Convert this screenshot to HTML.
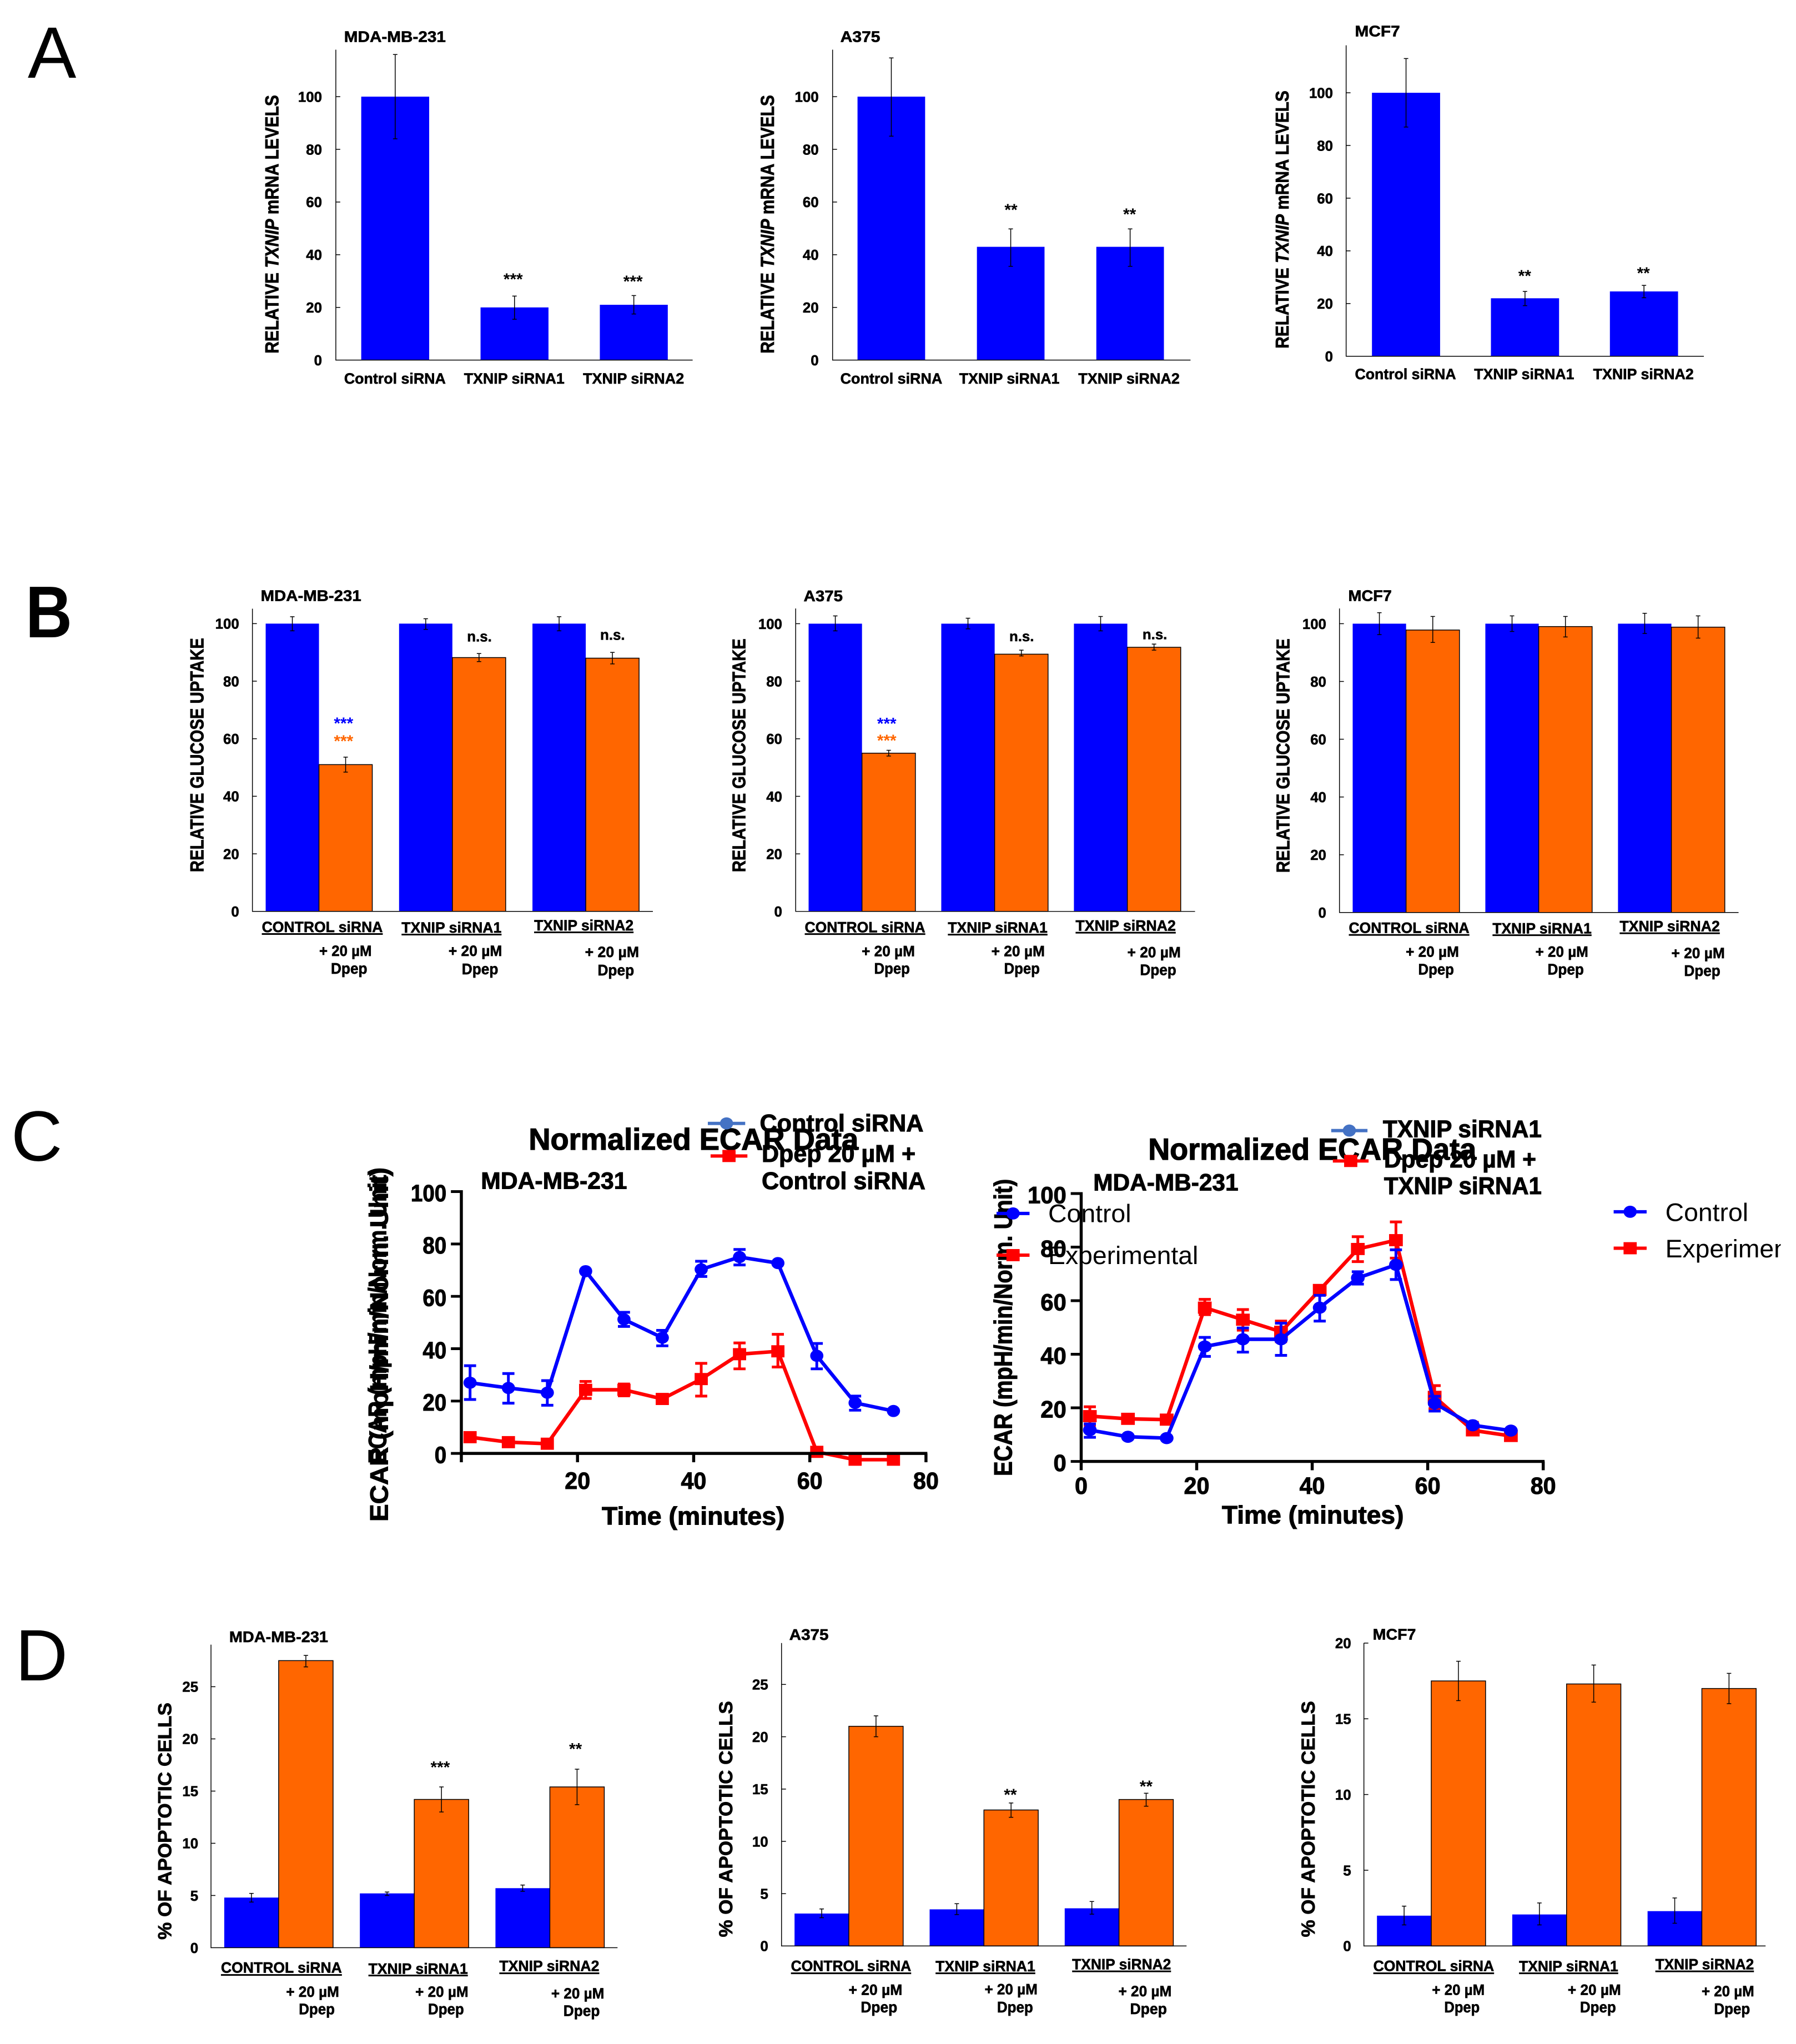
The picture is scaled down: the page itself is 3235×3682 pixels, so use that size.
<!DOCTYPE html>
<html lang="en">
<head>
<meta charset="utf-8">
<title>TXNIP knockdown figure panels</title>
<style>
html,body{margin:0;padding:0;background:#fff;}
svg{display:block;font-family:"Liberation Sans",sans-serif;}
</style>
</head>
<body>
<svg id="figure" xmlns="http://www.w3.org/2000/svg" width="3235" height="3682" viewBox="0 0 3235 3682">
<defs><clipPath id="page-clip"><rect x="0" y="0" width="3223" height="3682"/></clipPath></defs>
<rect x="0" y="0" width="3235" height="3682" fill="#fff"/>
</svg>
<script>
/* ---------- data ---------- */
const categoriesA = ['Control siRNA', 'TXNIP siRNA1', 'TXNIP siRNA2'];
const categoriesGrouped = ['CONTROL siRNA', 'TXNIP siRNA1', 'TXNIP siRNA2'];
const ticksHundred = [0, 20, 40, 60, 80, 100];
const ticksApoptosis = [0, 5, 10, 15, 20, 25];
const ticksApoptosisMcf7 = [0, 5, 10, 15, 20];

const a1Values = [100, 20, 21];
const a1High = [116, 24.3, 24.5];
const a1Low = [84, 15.5, 17.5];
const a2Values = [100, 43, 43];
const a2High = [114.7, 49.8, 49.8];
const a2Low = [85, 35.6, 35.6];
const a3Values = [100, 22, 24.6];
const a3High = [113, 24.6, 26.9];
const a3Low = [87, 19.2, 22.2];

const b1Control = [100, 100, 100];
const b1ControlHigh = [102.4, 101.7, 102.4];
const b1ControlLow = [97.5, 98, 97.5];
const b1Dpep = [51, 88.2, 88];
const b1DpepHigh = [53.6, 89.6, 90];
const b1DpepLow = [48.4, 86.8, 86];

const b2Control = [100, 100, 100];
const b2ControlHigh = [102.7, 101.9, 102.5];
const b2ControlLow = [97.5, 98.2, 97.5];
const b2Dpep = [55, 89.4, 91.8];
const b2DpepHigh = [56, 90.8, 92.9];
const b2DpepLow = [54, 88.8, 90.8];

const b3Control = [100, 100, 100];
const b3ControlHigh = [103.8, 102.7, 103.6];
const b3ControlLow = [96.2, 97.3, 96.6];
const b3Dpep = [97.8, 99, 98.8];
const b3DpepHigh = [102.5, 102.5, 102.7];
const b3DpepLow = [93.5, 95.4, 95];

const d1Control = [4.8, 5.2, 5.7];
const d1ControlHigh = [5.2, 5.33, 6];
const d1ControlLow = [4.37, 5, 5.4];
const d1Dpep = [27.5, 14.2, 15.4];
const d1DpepHigh = [28, 15.4, 17.1];
const d1DpepLow = [26.9, 13, 13.7];

const d2Control = [3.1, 3.5, 3.6];
const d2ControlHigh = [3.54, 4.04, 4.25];
const d2ControlLow = [2.7, 3, 3.04];
const d2Dpep = [21, 13, 14];
const d2DpepHigh = [22, 13.67, 14.6];
const d2DpepLow = [20, 12.3, 13.36];

const d3Control = [2, 2.08, 2.3];
const d3ControlHigh = [2.63, 2.84, 3.17];
const d3ControlLow = [1.39, 1.39, 1.5];
const d3Dpep = [17.5, 17.3, 17];
const d3DpepHigh = [18.8, 18.55, 18];
const d3DpepLow = [16.2, 16.1, 16];

const ecarMinutes = [1.5, 8.1, 14.8, 21.4, 28, 34.6, 41.3, 47.9, 54.5, 61.2, 67.8, 74.4];
const ecarYTicks = [0, 20, 40, 60, 80, 100];
const ecarXTicks = [0, 20, 40, 60, 80];

const c1Control = [27, 25, 23.2, 69.6, 51.2, 44.2, 70.3, 75, 72.7, 37.3, 19.3, 16.2];
const c1ControlHigh = [33.5, 30.5, 27.8, null, 53.9, 47, 73.4, 77.9, null, 42, 21.9, null];
const c1ControlLow = [20.6, 19.2, 18.4, null, 48.5, 41.1, 67.6, 72, null, 32.3, 16.5, null];
const c1Dpep = [6.2, 4.3, 3.7, 24.3, 24.3, 20.8, 28.4, 37.9, 39, 0.6, -2.4, -2.4];
const c1DpepHigh = [null, null, null, 27.5, 26.5, null, 34.4, 42.2, 45.5, null, null, null];
const c1DpepLow = [null, null, null, 21, 22, null, 21.9, 32.3, 33, null, null, null];

const c2Control = [11.7, 9.2, 8.7, 42.9, 45.6, 45.6, 57.4, 68.5, 73.4, 21.7, 13.5, 11.5];
const c2ControlHigh = [14, null, null, 46.3, 49.8, 51.6, 62, 70.8, 79, 24.3, null, null];
const c2ControlLow = [9, null, null, 39.2, 40.8, 39.6, 52.4, 66.2, 67.9, 18.8, null, null];
const c2Dpep = [16.9, 15.9, 15.6, 57.4, 52.9, 48.4, 64, 79.3, 82.6, 24.1, 11.6, 9.5];
const c2DpepHigh = [20.4, null, null, 60.5, 56.7, 52.4, 65.3, 83.9, 89.4, 28.3, 14.6, null];
const c2DpepLow = [13.5, null, null, 54.8, 49, 44.7, 62.7, 74.6, 75.9, 19.7, 10.4, null];

/* ---------- helpers ---------- */
const NS = 'http://www.w3.org/2000/svg';
const figure = document.getElementById('figure');
const BLUE = '#0000ff';
const ORANGE = '#ff6600';
const RED = '#ff0000';

function add(parent, tag, attrs, name) {
  const el = document.createElementNS(NS, tag);
  for (const k in attrs) el.setAttribute(k, attrs[k]);
  
  
  parent.appendChild(el);
  return el;
}
function group(parent, name) { return add(parent, 'g', {}, name); }
function fitGroup(g, f) {
  g.setAttribute('transform', 'translate(' + f[0] + ' ' + f[1] + ') scale(' + f[2] + ' ' + f[3] + ') translate(' + (-f[0]) + ' ' + (-f[1]) + ')');
}

function label(parent, str, x, y, o) {
  const size = o.size || 27;
  const weight = o.weight || 'bold';
  const attrs = { x: x, y: y + 0.36 * size, 'font-size': size, 'font-weight': weight,
                  'text-anchor': o.anchor || 'start', fill: o.fill || '#000' };
  if (weight === 'bold') { attrs.stroke = o.fill || '#000'; attrs['stroke-width'] = 0.024 * size; }
  if (o.w) { attrs.textLength = o.w; attrs.lengthAdjust = 'spacingAndGlyphs'; }
  const el = add(parent, 'text', attrs, o.name || 'label');
  el.textContent = str;
  return el;
}
function verticalTitle(parent, parts, xc, yBottom, len, size, name) {
  const bx = xc + 0.36 * size;
  const el = add(parent, 'text', { x: bx, y: yBottom, 'font-size': size, 'font-weight': 'bold', stroke: '#000', 'stroke-width': 0.024 * size,
    transform: 'rotate(-90 ' + bx + ' ' + yBottom + ')', textLength: len, lengthAdjust: 'spacingAndGlyphs' }, name);
  parts.forEach(function (p) {
    const t = document.createElementNS(NS, 'tspan');
    if (p.italic) t.setAttribute('font-style', 'italic');
    t.textContent = p.text;
    el.appendChild(t);
  });
  return el;
}
function hline(parent, x1, x2, y, w, color, name) {
  return add(parent, 'line', { x1: x1, x2: x2, y1: y, y2: y, stroke: color || '#000', 'stroke-width': w }, name);
}
function vline(parent, x, y1, y2, w, color, name) {
  return add(parent, 'line', { x1: x, x2: x, y1: y1, y2: y2, stroke: color || '#000', 'stroke-width': w }, name);
}

function bigLetter(str, x, baseline, size, weight, len) {
  const attrs = { x: x, y: baseline, 'font-size': size, 'font-weight': weight };
  if (len) { attrs.textLength = len; attrs.lengthAdjust = 'spacingAndGlyphs'; }
  const el = add(figure, 'text', attrs, 'panel-letter-' + str.toLowerCase());
  el.textContent = str;
}
bigLetter('A', 50, 140, 131, 'normal');
bigLetter('B', 46, 1148, 132, 'bold', 84);
bigLetter('C', 20, 2091, 128, 'normal');
bigLetter('D', 27.5, 3027, 131, 'normal');

/* ---------- bar panels ---------- */
function barPanel(c) {
  const g = group(figure, c.name);
  fitGroup(g, c.fit);
  const y = function (v) { return c.base - v * c.unit; };

  label(g, c.title, c.titleX, c.titleY, { size: 28, w: c.titleW, name: 'panel-title' });
  verticalTitle(g, c.yTitle, c.yTitleX, c.yTitleBottom, c.yTitleLen, 34, 'y-axis-title');

  c.series.forEach(function (s, j) {
    s.values.forEach(function (v, i) {
      const left = c.x0 + c.off + i * c.step + j * c.barW;
      const attrs = { x: left, y: y(v), width: c.barW, height: c.base - y(v), fill: s.color };
      if (s.outline) { attrs.stroke = '#000'; attrs['stroke-width'] = 1.5; }
      add(g, 'rect', attrs, 'bar-' + s.key + '-' + (i + 1));
    });
  });
  c.series.forEach(function (s, j) {
    s.values.forEach(function (v, i) {
      const cx = c.x0 + c.off + i * c.step + (j + 0.5) * c.barW;
      const yh = y(s.high[i]);
      const yl = y(s.low[i]);
      vline(g, cx, yh, yl, 1.5, '#000', 'error-bar-' + s.key + '-' + (i + 1));
      hline(g, cx - 4, cx + 4, yh, 1.5, '#000', 'error-cap-high');
      hline(g, cx - 4, cx + 4, yl, 1.5, '#000', 'error-cap-low');
    });
  });

  vline(g, c.x0, c.top, c.base + 0.75, 1.5, '#000', 'y-axis');
  hline(g, c.x0, c.right, c.base, 1.5, '#000', 'x-axis');
  c.ticks.forEach(function (t) {
    if (t !== 0) hline(g, c.x0, c.x0 + 8, y(t), 1.5, '#000', 'y-tick');
    label(g, String(t), c.tickRight, y(t), { size: 26, anchor: 'end', name: 'y-tick-label' });
  });

  (c.notes || []).forEach(function (n) {
    const sz = n.size || 30;
    const isNs = n.text === 'n.s.';
    const attrs = { x: n.x, y: n.y + (isNs ? 0.36 : 0.56) * sz - 2, 'font-size': sz, 'font-weight': 'bold',
      'text-anchor': 'middle', fill: n.color || '#000' };
    if (isNs) { attrs.stroke = '#000'; attrs['stroke-width'] = 0.6; }
    const el = add(g, 'text', attrs, isNs ? 'not-significant-label' : 'significance-stars');
    el.textContent = n.text;
  });

  if (c.plainLabels) {
    c.plainLabels.forEach(function (l, i) {
      label(g, c.categories[i], l[0], l[2], { size: 27, w: l[1], anchor: 'middle', name: 'x-category-label' });
    });
  }
  if (c.groups) {
    c.groups.forEach(function (l, i) {
      label(g, c.categories[i], l[0], l[2], { size: 27, w: l[1], name: 'x-category-label' });
      hline(g, l[0], l[0] + l[1], l[3], 3, '#000', 'category-underline');
    });
    c.doses.forEach(function (l) {
      label(g, '+ 20 µM', l[0], l[2], { size: 27, w: l[1], name: 'dose-label' });
    });
    c.dpeps.forEach(function (l) {
      label(g, 'Dpep', l[0], l[2], { size: 28, w: l[1], name: 'drug-label' });
    });
  }
}

const titleMrna = [{ text: 'RELATIVE ' }, { text: 'TXNIP', italic: true }, { text: ' mRNA LEVELS' }];
const titleGlucose = [{ text: 'RELATIVE GLUCOSE UPTAKE' }];
const titleApoptosis = [{ text: '% OF APOPTOTIC CELLS' }];

barPanel({ name: 'panel-a-mda-mb-231', fit: [0, 0, 0.9949, 0.9949], title: 'MDA-MB-231', titleX: 623, titleY: 66, titleW: 184,
  x0: 608, base: 652, top: 90, right: 1254, unit: 4.77, off: 46, step: 216, barW: 123, tickRight: 583, ticks: ticksHundred,
  yTitle: titleMrna, yTitleX: 492, yTitleBottom: 640, yTitleLen: 468, categories: categoriesA,
  series: [{ key: 'control', color: BLUE, values: a1Values, high: a1High, low: a1Low }],
  notes: [{ text: '***', x: 929, y: 501 }, { text: '***', x: 1146, y: 505 }],
  plainLabels: [[715, 184, 685], [931, 182, 685], [1147, 183, 685]] });

barPanel({ name: 'panel-a-a375', fit: [1340, 0, 0.998, 0.9949], title: 'A375', titleX: 1514, titleY: 66, titleW: 72,
  x0: 1500, base: 652, top: 90, right: 2146, unit: 4.77, off: 45, step: 215.5, barW: 122, tickRight: 1475, ticks: ticksHundred,
  yTitle: titleMrna, yTitleX: 1382, yTitleBottom: 640, yTitleLen: 468, categories: categoriesA,
  series: [{ key: 'control', color: BLUE, values: a2Values, high: a2High, low: a2Low }],
  notes: [{ text: '**', x: 1822, y: 375 }, { text: '**', x: 2036, y: 383 }],
  plainLabels: [[1606, 184, 685], [1819, 181, 685], [2035, 183, 685]] });

barPanel({ name: 'panel-a-mcf7', fit: [2200, 0, 0.9898, 0.9949], title: 'MCF7', titleX: 2443, titleY: 56, titleW: 82,
  x0: 2427, base: 645, top: 82, right: 3078, unit: 4.77, off: 47, step: 216.5, barW: 124, tickRight: 2403, ticks: ticksHundred,
  yTitle: titleMrna, yTitleX: 2310, yTitleBottom: 631, yTitleLen: 467, categories: categoriesA,
  series: [{ key: 'control', color: BLUE, values: a3Values, high: a3High, low: a3Low }],
  notes: [{ text: '**', x: 2752, y: 495 }, { text: '**', x: 2968, y: 490 }],
  plainLabels: [[2535, 184, 677], [2751, 182, 677], [2968, 183, 677]] });

barPanel({ name: 'panel-b-mda-mb-231', fit: [0, 1000, 0.9949, 0.9949], title: 'MDA-MB-231', titleX: 472, titleY: 1073, titleW: 182,
  x0: 457, base: 1645, top: 1097, right: 1182, unit: 5.21, off: 24, step: 241.5, barW: 96.5, tickRight: 433, ticks: ticksHundred,
  yTitle: titleGlucose, yTitleX: 356, yTitleBottom: 1574, yTitleLen: 424, categories: categoriesGrouped,
  series: [{ key: 'control', color: BLUE, values: b1Control, high: b1ControlHigh, low: b1ControlLow },
           { key: 'dpep', color: ORANGE, outline: true, values: b1Dpep, high: b1DpepHigh, low: b1DpepLow }],
  notes: [{ text: '***', x: 622, y: 1300, color: BLUE }, { text: '***', x: 622, y: 1332, color: ORANGE },
          { text: 'n.s.', x: 868, y: 1149, size: 26 }, { text: 'n.s.', x: 1109, y: 1146, size: 26 }],
  groups: [[474, 219, 1673, 1686], [727, 181, 1674, 1687], [967, 180, 1670, 1683]],
  doses: [[578, 95, 1716], [812, 97, 1716], [1059, 98, 1718]],
  dpeps: [[599, 66, 1748], [836, 66, 1749], [1082, 66, 1751]] });

barPanel({ name: 'panel-b-a375', fit: [1280, 1020, 0.9915, 0.9949], title: 'A375', titleX: 1449, titleY: 1073.5, titleW: 71,
  x0: 1434.5, base: 1645, top: 1096.5, right: 2160, unit: 5.21, off: 23.5, step: 241, barW: 97, tickRight: 1410, ticks: ticksHundred,
  yTitle: titleGlucose, yTitleX: 1331, yTitleBottom: 1574, yTitleLen: 423, categories: categoriesGrouped,
  series: [{ key: 'control', color: BLUE, values: b2Control, high: b2ControlHigh, low: b2ControlLow },
           { key: 'dpep', color: ORANGE, outline: true, values: b2Dpep, high: b2DpepHigh, low: b2DpepLow }],
  notes: [{ text: '***', x: 1600, y: 1300, color: BLUE }, { text: '***', x: 1600, y: 1331, color: ORANGE },
          { text: 'n.s.', x: 1845, y: 1148.5, size: 26 }, { text: 'n.s.', x: 2087, y: 1145, size: 26 }],
  groups: [[1451, 219, 1673, 1686], [1711, 181, 1673.5, 1687], [1943, 182, 1670, 1683.5]],
  doses: [[1554.5, 96.5, 1716.5], [1790, 97, 1716.5], [2037, 97, 1718.5]],
  dpeps: [[1577, 65, 1747.5], [1813, 65, 1747.5], [2060, 66, 1750]] });

barPanel({ name: 'panel-b-mcf7', fit: [2260, 1020, 0.9915, 0.9949], title: 'MCF7', titleX: 2430, titleY: 1072.5, titleW: 79,
  x0: 2414, base: 1647, top: 1096.5, right: 3139, unit: 5.23, off: 24, step: 241, barW: 97, tickRight: 2390, ticks: ticksHundred,
  yTitle: titleGlucose, yTitleX: 2311, yTitleBottom: 1575, yTitleLen: 424, categories: categoriesGrouped,
  series: [{ key: 'control', color: BLUE, values: b3Control, high: b3ControlHigh, low: b3ControlLow },
           { key: 'dpep', color: ORANGE, outline: true, values: b3Dpep, high: b3DpepHigh, low: b3DpepLow }],
  groups: [[2431, 219, 1674, 1687.5], [2692, 180, 1675, 1688], [2923, 182, 1671, 1684.5]],
  doses: [[2534.5, 96.5, 1717.5], [2770, 96, 1717.5], [3017, 97, 1720]],
  dpeps: [[2557, 65, 1749], [2792, 66, 1749], [3040, 66, 1751.5]] });

barPanel({ name: 'panel-d-mda-mb-231', fit: [0, 2900, 0.9949, 0.9949], title: 'MDA-MB-231', titleX: 415, titleY: 2948, titleW: 179,
  x0: 382, base: 3511.6, top: 2963, right: 1118, unit: 18.9, off: 24, step: 245.5, barW: 98.5, tickRight: 359, ticks: ticksApoptosis,
  yTitle: titleApoptosis, yTitleX: 298, yTitleBottom: 3497, yTitleLen: 429, categories: categoriesGrouped,
  series: [{ key: 'control', color: BLUE, values: d1Control, high: d1ControlHigh, low: d1ControlLow },
           { key: 'dpep', color: ORANGE, outline: true, values: d1Dpep, high: d1DpepHigh, low: d1DpepLow }],
  notes: [{ text: '***', x: 797, y: 3180 }, { text: '**', x: 1042, y: 3147 }],
  groups: [[400, 219, 3547, 3561], [667, 180, 3549, 3562], [904, 181, 3544, 3558]],
  doses: [[518, 96, 3591], [752, 96, 3591], [998, 96, 3594]],
  dpeps: [[541, 65, 3622], [775, 65, 3622], [1020, 66, 3625]] });

barPanel({ name: 'panel-d-a375', fit: [1260, 2900, 0.998, 0.9949], title: 'A375', titleX: 1422, titleY: 2944, titleW: 71,
  x0: 1408, base: 3508.5, top: 2960, right: 2139, unit: 18.94, off: 23.5, step: 243.8, barW: 98, tickRight: 1384, ticks: ticksApoptosis,
  yTitle: titleApoptosis, yTitleX: 1307, yTitleBottom: 3492.5, yTitleLen: 427.5, categories: categoriesGrouped,
  series: [{ key: 'control', color: BLUE, values: d2Control, high: d2ControlHigh, low: d2ControlLow },
           { key: 'dpep', color: ORANGE, outline: true, values: d2Dpep, high: d2DpepHigh, low: d2DpepLow }],
  notes: [{ text: '**', x: 1821, y: 3230 }, { text: '**', x: 2066, y: 3215 }],
  groups: [[1425, 217, 3544, 3558], [1686, 180, 3544.5, 3558], [1932.5, 178.5, 3541, 3554.5]],
  doses: [[1529, 97, 3587.5], [1774.5, 95.5, 3586.5], [2016, 96, 3590]],
  dpeps: [[1551, 66, 3618.5], [1797, 65, 3618.5], [2037, 66.5, 3621.5]] });

barPanel({ name: 'panel-d-mcf7', fit: [2290, 2900, 0.998, 0.9949], title: 'MCF7', titleX: 2473, titleY: 2943.5, titleW: 78,
  x0: 2457, base: 3508.5, top: 2960, right: 3182, unit: 27.42, off: 23.6, step: 244.2, barW: 98, tickRight: 2434, ticks: ticksApoptosisMcf7,
  yTitle: titleApoptosis, yTitleX: 2356, yTitleBottom: 3492.5, yTitleLen: 427.5, categories: categoriesGrouped,
  series: [{ key: 'control', color: BLUE, values: d3Control, high: d3ControlHigh, low: d3ControlLow },
           { key: 'dpep', color: ORANGE, outline: true, values: d3Dpep, high: d3DpepHigh, low: d3DpepLow }],
  groups: [[2474, 218, 3544, 3558], [2737, 179, 3544.5, 3558], [2983, 178, 3541, 3554.5]],
  doses: [[2580, 95, 3587.5], [2825, 96, 3587.5], [3066.5, 95, 3590]],
  dpeps: [[2602, 64, 3618.5], [2847, 65, 3618.5], [3089, 65, 3621.5]] });

/* ---------- ECAR line panels ---------- */
function drawMarker(parent, kind, x, y, c, color, name) {
  if (kind === 'circle') {
    add(parent, 'ellipse', { cx: x, cy: y, rx: c.markW / 2, ry: c.markH / 2, fill: color }, name);
  } else {
    add(parent, 'rect', { x: x - c.markW / 2, y: y - c.markH / 2, width: c.markW, height: c.markH, fill: color }, name);
  }
}
function lineChart(c) {
  const g = group(figure, c.name);
  fitGroup(g, c.fit);
  const px = function (t) { return c.x0 + t * c.xUnit; };
  const py = function (v) { return c.base - v * c.yUnit; };

  c.series.forEach(function (s) {
    const sg = group(g, 'series-' + s.key);
    const pts = ecarMinutes.map(function (t, i) { return px(t) + ',' + py(s.values[i]); }).join(' ');
    add(sg, 'polyline', { points: pts, fill: 'none', stroke: s.color, 'stroke-width': 6.5, 'stroke-linejoin': 'round' }, 'line-' + s.key);
    ecarMinutes.forEach(function (t, i) {
      if (s.high[i] !== null) {
        vline(sg, px(t), py(s.high[i]), py(s.low[i]), 5, s.color, 'error-bar-' + s.key);
        hline(sg, px(t) - 11, px(t) + 11, py(s.high[i]), 5, s.color, 'error-cap-high');
        hline(sg, px(t) - 11, px(t) + 11, py(s.low[i]), 5, s.color, 'error-cap-low');
      }
      drawMarker(sg, s.marker, px(t), py(s.values[i]), c, s.color, 'point-' + s.key + '-' + (i + 1));
    });
  });

  vline(g, c.x0, py(100) - 2.5, c.base + 2.5, 5.5, '#000', 'y-axis');
  hline(g, c.x0, px(80) + 2.5, c.base, 5.5, '#000', 'x-axis');
  ecarYTicks.forEach(function (t) {
    hline(g, c.x0 - 19, c.x0, py(t), 5, '#000', 'y-tick');
    label(g, String(t), c.x0 - 27, py(t) + 2, { size: 43, anchor: 'end', w: String(t).length * c.yDigitW, name: 'y-tick-label' });
  });
  ecarXTicks.forEach(function (t) {
    vline(g, px(t), c.base, c.base + 16, 5.5, '#000', 'x-tick');
    if (t !== 0 || c.showZero) {
      label(g, String(t), px(t), c.xLabelY, { size: 43, anchor: 'middle', w: String(t).length * 23.2, name: 'x-tick-label' });
    }
  });
  return g;
}

const gC1 = lineChart({ name: 'panel-c-control-sirna', fit: [600, 1960, 0.9897, 0.9949], x0: 833.4, base: 2621.5, xUnit: 10.57, yUnit: 4.74,
  markW: 24, markH: 22, yDigitW: 21.7, xLabelY: 2670, showZero: false,
  series: [{ key: 'dpep', color: RED, marker: 'square', values: c1Dpep, high: c1DpepHigh, low: c1DpepLow },
           { key: 'control', color: BLUE, marker: 'circle', values: c1Control, high: c1ControlHigh, low: c1ControlLow }] });
const gC2 = lineChart({ name: 'panel-c-txnip-sirna1', fit: [1700, 1960, 0.9898, 0.9949], x0: 1950, base: 2636, xUnit: 10.51, yUnit: 4.85,
  markW: 25, markH: 22, yDigitW: 23.5, xLabelY: 2679.5, showZero: true,
  series: [{ key: 'dpep', color: RED, marker: 'square', values: c2Dpep, high: c2DpepHigh, low: c2DpepLow },
           { key: 'control', color: BLUE, marker: 'circle', values: c2Control, high: c2ControlHigh, low: c2ControlLow }] });

function legendKey(parent, x1, x2, y, color, kind, name) {
  hline(parent, x1, x2, y, 6, color, name + '-line');
  drawMarker(parent, kind, (x1 + x2) / 2, y, { markW: 24, markH: 22 }, color, name + '-marker');
}

/* panel C text, chart 1 */
const ecarTitle1 = [{ text: 'ECAR (mpH/min/Norm. Unit)' }];
label(gC1, 'Normalized ECAR Data', 956, 2052, { size: 55, w: 600, name: 'chart-title' });
label(gC1, 'MDA-MB-231', 869, 2127, { size: 43, w: 266, name: 'cell-line-title' });
label(gC1, 'Time (minutes)', 1089, 2734, { size: 46, w: 333, name: 'x-axis-title' });
verticalTitle(gC1, ecarTitle1, 683, 2745, 641, 46, 'y-axis-title');
verticalTitle(gC1, ecarTitle1, 680, 2640, 536, 46, 'y-axis-title-duplicate');
legendKey(gC1, 1282, 1350, 2024, '#4472c4', 'circle', 'legend-control-sirna');
label(gC1, 'Control siRNA', 1376.5, 2022.6, { size: 44, w: 298, name: 'legend-control-sirna-label' });
legendKey(gC1, 1287, 1354, 2083, RED, 'square', 'legend-dpep-control');
label(gC1, 'Dpep 20 µM +', 1380, 2078, { size: 44, w: 280, name: 'legend-dpep-label-line1' });
label(gC1, 'Control siRNA', 1380, 2127, { size: 44, w: 298, name: 'legend-dpep-label-line2' });

/* panel C text, chart 2 */
label(gC2, 'Normalized ECAR Data', 2072, 2070, { size: 55, w: 597, name: 'chart-title' });
label(gC2, 'MDA-MB-231', 1972, 2130, { size: 43, w: 264, name: 'cell-line-title' });
label(gC2, 'Time (minutes)', 2206, 2732, { size: 46, w: 331, name: 'x-axis-title' });
verticalTitle(gC2, ecarTitle1, 1807, 2662.5, 538, 46, 'y-axis-title');
legendKey(gC2, 2405, 2471, 2037, '#4472c4', 'circle', 'legend-txnip-sirna1');
label(gC2, 'TXNIP siRNA1', 2499, 2033, { size: 44, w: 289, name: 'legend-txnip-sirna1-label' });
legendKey(gC2, 2408, 2473, 2092, RED, 'square', 'legend-dpep-txnip');
label(gC2, 'Dpep 20 µM +', 2501, 2088, { size: 44, w: 277, name: 'legend-dpep-label-line1' });
label(gC2, 'TXNIP siRNA1', 2501, 2136, { size: 44, w: 287, name: 'legend-dpep-label-line2' });

legendKey(gC2, 1796, 1856, 2187, BLUE, 'circle', 'legend-inner-control');
label(gC2, 'Control', 1890, 2186, { size: 46, weight: 'normal', w: 151, name: 'legend-inner-control-label' });
legendKey(gC2, 1796, 1856, 2262.5, RED, 'square', 'legend-inner-experimental');
label(gC2, 'Experimental', 1890, 2262, { size: 46, weight: 'normal', w: 273, name: 'legend-inner-experimental-label' });

const outerLegend = group(figure, 'outer-legend');
fitGroup(outerLegend, [1700, 1960, 0.9898, 0.9949]);
outerLegend.setAttribute('clip-path', 'url(#page-clip)');
legendKey(outerLegend, 2919, 2979, 2184, BLUE, 'circle', 'legend-outer-control');
label(outerLegend, 'Control', 3013, 2184, { size: 46, weight: 'normal', w: 151, name: 'legend-outer-control-label' });
legendKey(outerLegend, 2919, 2979, 2250, RED, 'square', 'legend-outer-experimental');
label(outerLegend, 'Experimental', 3013, 2250, { size: 46, weight: 'normal', w: 273, name: 'legend-outer-experimental-label' });
</script>
</body>
</html>
